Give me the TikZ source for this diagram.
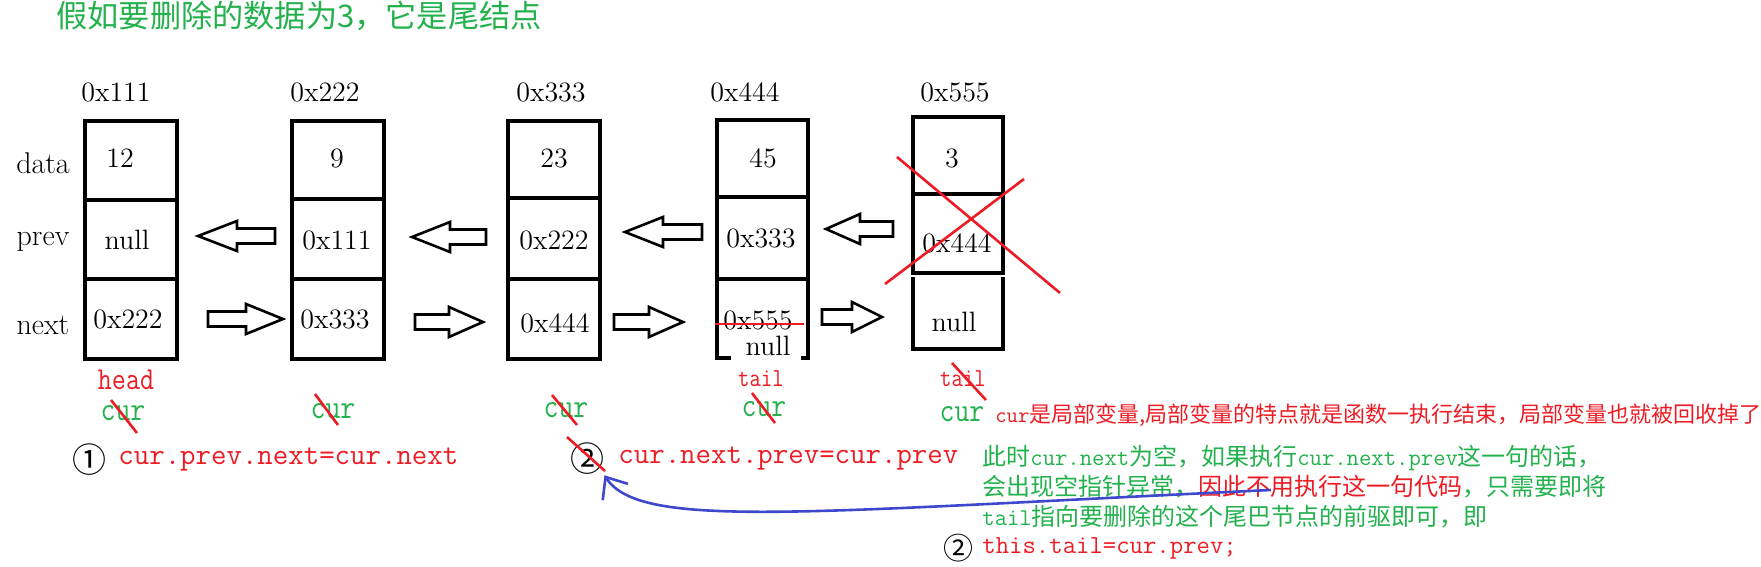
\documentclass[tikz,border=0pt]{standalone}
\usepackage{graphicx}
\usepackage{fontspec}
\newfontfamily\cjk{Noto Sans CJK SC}
\usetikzlibrary{arrows.meta}
\definecolor{pgreen}{RGB}{34,177,76}
\definecolor{pred}{RGB}{237,28,36}
\definecolor{pblue}{RGB}{63,72,204}
\newcommand{\narrow}[1]{\scalebox{0.85}[1]{#1}}
\tikzset{
    cell/.style={line width=1.6pt},
    hollow/.style={line width=1.3pt},
    strike/.style={pred, line width=1.3pt},
    val/.style={font=\fontsize{14}{16}\selectfont, inner sep=0pt},
    code/.style={font=\ttfamily\fontsize{15}{18}\selectfont, text=pred, anchor=west, inner sep=0pt},
    curlbl/.style={font=\ttfamily\fontsize{17}{19}\selectfont, text=pgreen, inner sep=0pt},
    ptrlbl/.style={font=\ttfamily\fontsize{16}{18}\selectfont, text=pred, inner sep=0pt},
    note/.style={font=\cjk\fontsize{12}{15}\selectfont, text=pgreen, anchor=west, inner sep=0pt},
    circ/.style={font=\cjk\fontsize{17}{19}\selectfont, inner sep=0pt}
}

\begin{document}
\begin{tikzpicture}[x=0.5pt, y=-0.5pt]
    \useasboundingbox (0,0) rectangle (1761,567);
    \node[font=\cjk\fontsize{15.6}{18}\selectfont, text=pgreen, anchor=west, inner sep=0pt] (title) at (56,16) {假如要删除的数据为3，它是尾结点};
    \foreach \n/\x/\t in {a1/116/0x111, a2/325/0x222, a3/551/0x333, a4/745/0x444, a5/955/0x555} {
        \node[val] (\n) at (\x,92) {\t};
    }
    \foreach \n/\y in {data/163, prev/242, next/325} {
        \node[val, font=\fontsize{15}{17}\selectfont] (\n) at (43,\y) {\n};
    }
    \foreach \a/\b/\t/\m/\k/\bot in {85/177/121/200/279/359, 292/384/121/199/279/359, 508/600/121/198/279/359} {
        \draw[cell] (\a,\t) rectangle (\b,\bot);
        \draw[cell] (\a,\m) -- (\b,\m);
        \draw[cell] (\a,\k) -- (\b,\k);
    }
    \draw[cell] (731,358) -| (717,120) -| (808,358) -- (801,358);
    \draw[cell] (717,197) -- (808,197);
    \draw[cell] (717,279) -- (808,279);
    \draw[cell] (913,117) rectangle (1003,273);
    \draw[cell] (913,194) -- (1003,194);
    \draw[cell] (913,277) -- (913,349) -- (1003,349) -- (1003,277);
    \foreach \n/\x/\y/\t in {v11/120/158/12, v12/127/240/null, v13/128/319/0x222,
                             v21/337/158/9, v22/337/240/0x111, v23/335/319/0x333,
                             v31/554/158/23, v32/554/240/0x222, v33/555/323/0x444,
                             v41/763/158/45, v42/761/238/0x333, v43/758/320/0x555, v44/768/346/null,
                             v51/952/158/3, v52/957/243/0x444, v53/954/322/null} {
        \node[val] (\n) at (\x,\y) {\t};
    }
    \foreach \s/\e/\y/\h in {275/198/236/237, 208/283/319/246, 486/412/237/450, 415/483/322/449,
                             702/625/232/663, 614/683/322/649, 893/826/229/860, 822/882/317/852} {
        \draw[hollow] (\s,\y-7.5) -- (\h,\y-7.5) -- (\h,\y-15) -- (\e,\y)
            -- (\h,\y+15) -- (\h,\y+7.5) -- (\s,\y+7.5) -- cycle;
    }
    \draw[strike] (715,324) -- (804,324);
    \draw[strike] (897,157) -- (1060,293);
    \draw[strike] (885,284) -- (1024,179);
    \node[ptrlbl] (head) at (126,380) {\narrow{head}};
    \node[ptrlbl, font=\ttfamily\fontsize{13}{15}\selectfont] (tail4) at (761,379) {\narrow{tail}};
    \node[ptrlbl, font=\ttfamily\fontsize{13}{15}\selectfont] (tail5) at (963,379) {\narrow{tail}};
    \foreach \n/\x/\y in {cur1/123/413, cur2/333/411, cur3/566/410, cur4/764/409, cur5/962/414} {
        \node[curlbl] (\n) at (\x,\y) {\narrow{cur}};
    }
    \draw[strike] (111,400) -- (137,433);
    \draw[strike] (315,394) -- (338,425);
    \draw[strike] (552,395) -- (577,425);
    \draw[strike] (752,393) -- (775,423);
    \draw[strike] (952,363) -- (986,400);
    \node[note, text=pred, font=\cjk\fontsize{11}{13}\selectfont] (why) at (995,415) {{\ttfamily cur}是局部变量,局部变量的特点就是函数一执行结束，局部变量也就被回收掉了};
    \node[circ] (c1) at (89,460) {①};
    \node[code] (step1) at (118,460) {cur.prev.next=cur.next};
    \node[circ] (c2) at (587,459) {②};
    \node[code] (step2) at (618,459) {cur.next.prev=cur.prev};
    \draw[strike] (567,437) -- (605,471);
    \node[note] (n1) at (982,458) {此时{\ttfamily cur.next}为空，如果执行{\ttfamily cur.next.prev}这一句的话，};
    \node[note] (n2) at (982,487) {会出现空指针异常，\textcolor{pred}{因此不用执行这一句代码}，只需要即将};
    \node[note] (n3) at (982,517) {{\ttfamily tail}指向要删除的这个尾巴节点的前驱即可，即};
    \node[circ, font=\cjk\fontsize{15}{17}\selectfont] (c3) at (958,548) {②};
    \node[code, font=\ttfamily\fontsize{13}{15}\selectfont] (fix) at (982,548) {this.tail=cur.prev;};
    \coordinate (bstart) at (1271,490);
    \draw[pblue, line width=1.3pt, -{Straight Barb[length=9pt,width=15pt]}] (bstart) .. controls (800,512) and (640,530) .. (c2.south east);
\end{tikzpicture}
\end{document}
